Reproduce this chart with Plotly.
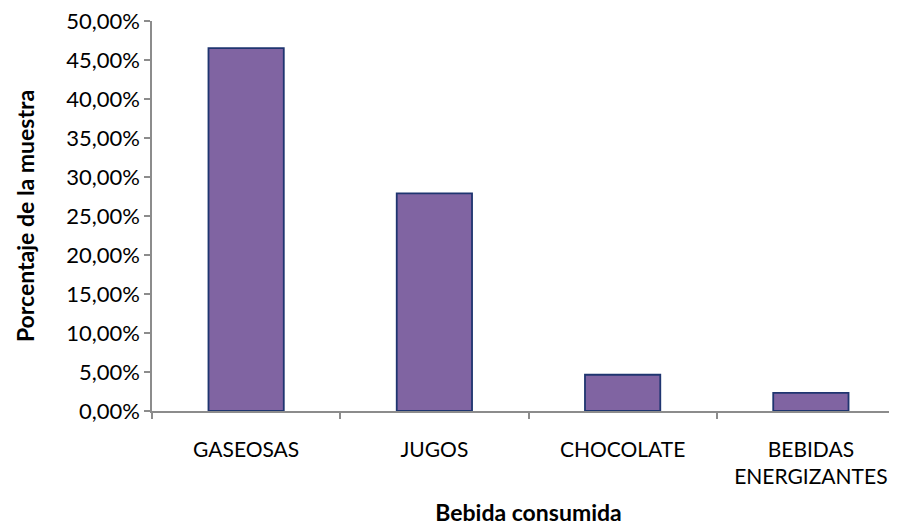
import plotly.graph_objects as go

categories = ["GASEOSAS", "JUGOS", "CHOCOLATE", "BEBIDAS<br>ENERGIZANTES"]
values = [0.4651, 0.2791, 0.0465, 0.0233]
y_ticks = [0, 0.05, 0.10, 0.15, 0.20, 0.25, 0.30, 0.35, 0.40, 0.45, 0.50]

FONT = "Lato"
AXIS_COLOR = "#8c8c8c"
FS = 22
XFS = 21
TFS = 23

fig = go.Figure()
fig.add_trace(go.Bar(
    x=categories,
    y=values,
    width=0.4,
    marker=dict(color="#8064A2", line=dict(color="#1F3570", width=1.8)),
))

fig.update_layout(
    width=897, height=531,
    margin=dict(l=144, r=0, t=13, b=128),
    paper_bgcolor="white", plot_bgcolor="white",
    separators=",.",
    showlegend=False,
    font=dict(family=FONT, size=FS, color="#000000"),
)

fig.update_xaxes(
    range=[-0.5, 3.5],
    showline=True, linecolor=AXIS_COLOR, linewidth=1.5,
    ticks="outside", tickson="boundaries", ticklen=6, tickcolor=AXIS_COLOR, tickwidth=1.5,
    showgrid=False, zeroline=False,
    tickfont=dict(family=FONT, size=XFS),
    ticklabelstandoff=19,
    ticklabeloverflow="allow",
    title=dict(text="<b>Bebida consumida</b>", font=dict(family=FONT, size=TFS), standoff=18),
)

fig.update_yaxes(
    range=[0, 0.5],
    tickvals=y_ticks,
    tickformat=".2%",
    showline=True, linecolor=AXIS_COLOR, linewidth=1.5,
    ticks="outside", ticklen=6, tickcolor=AXIS_COLOR, tickwidth=1.5,
    showgrid=False, zeroline=False,
    tickfont=dict(family=FONT, size=FS),
    ticklabeloverflow="allow",
    title=dict(text="<b>Porcentaje de la muestra</b>", font=dict(family=FONT, size=TFS), standoff=25),
)

fig.write_html("out.html")
